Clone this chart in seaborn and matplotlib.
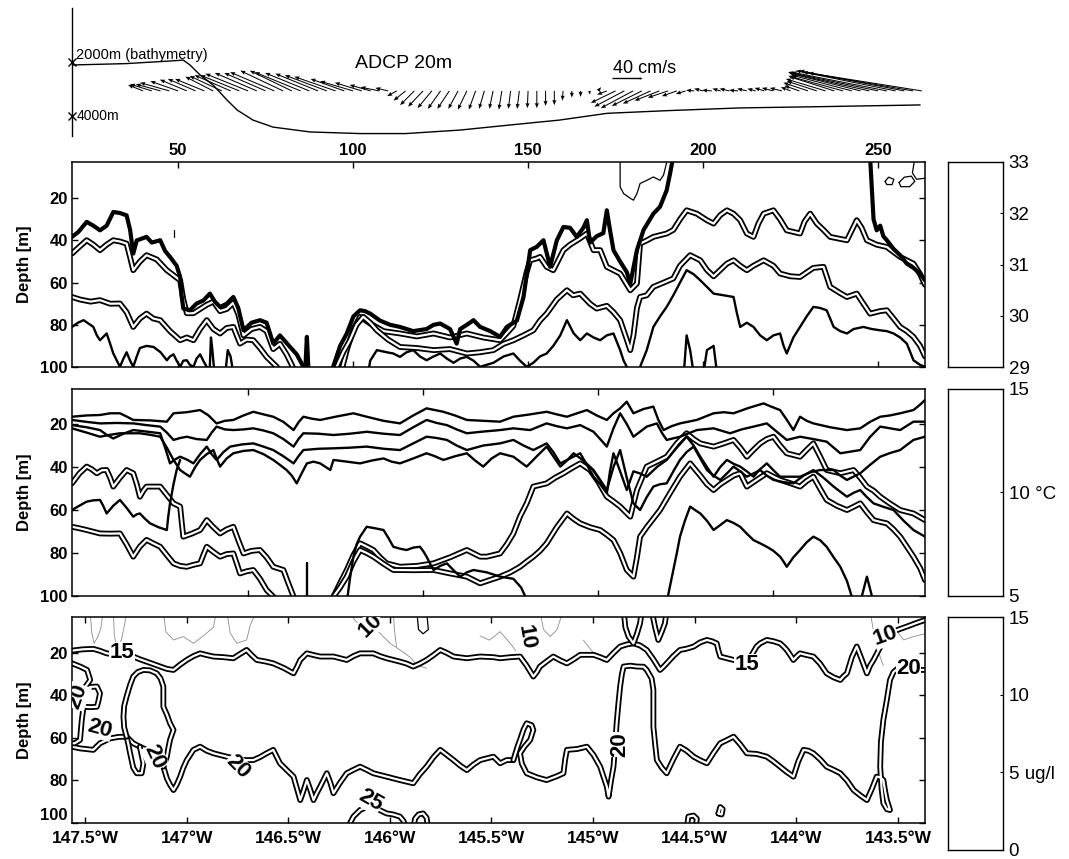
import numpy as np
import matplotlib
matplotlib.use("Agg")
import matplotlib.pyplot as plt
import seaborn as sns

sns.set_style("white")
plt.rcParams['font.family'] = ['Liberation Sans', 'DejaVu Sans']
plt.rcParams.update({'text.color': 'black', 'axes.labelcolor': 'black',
                     'xtick.color': 'black', 'ytick.color': 'black',
                     'axes.edgecolor': 'black'})

# ---------------------------------------------------------------- top: ADCP 20 m
BATHY_KM = [19.7, 35, 48, 51.5, 53.4, 56.3, 60.0, 64.0, 66.9, 71.4, 77.1, 87.7, 102.0,
            115, 130.6, 145, 159, 172.6, 190, 210.6, 235, 262]
BATHY_DEPTH = [2110, 2060, 1960, 1930, 2110, 2480, 2850, 3410, 3780, 4150, 4410, 4590, 4650,
               4650, 4520, 4330, 4150, 3900, 3800, 3700, 3650, 3590]

ADCP_KM = list(np.arange(40, 262.6, 2.5))
ADCP_U = [-20, -29, -33, -39, -37, -36, -37, -39, -37, -43, -48, -52, -57, -56, -55, -59, -57, -56,
          -61, -59, -57, -56, -55, -45, -44, -36, -28, -25, -17,
          -13, -16, -19, -20, -19, -17, -16, -13, -12, -9, -7, -5, -4, -3, -3, -1, 0, 0, 0, -1,
          0, 0, 1, 4, -13, -33, -40, -43,
          -40, -37, -33, -27, -20, -13,
          -11, -12, -13, -11, -13, -12, -13, -11, -13, -15, -16, -13,
          -20, -33, -40, -53, -60, -73, -80, -93, -107, -120, -127, -133, -140, -147, -151]
ADCP_V = [8, 9, 9, 11, 13, 15, 16, 16, 19, 20, 21, 21, 23, 24, 24, 25, 27, 27, 25, 24, 23, 21,
          19, 16, 13, 11, 8, 5, 4,
          -7, -13, -19, -21, -23, -24, -24, -24, -25, -25, -24, -24, -25, -24, -24, -23, -23,
          -20, -19, -13, -9, -8, -5, 5, -5, -16, -21, -23,
          -20, -17, -13, -9, -7, -4,
          1, 3, 1, 3, 3, 1, 3, 3, 4, 4, 4, 5,
          7, 11, 13, 16, 19, 20, 21, 23, 24, 25, 25, 27, 27, 25, 24]
ADCP_DEPTH_LINE = 3070
SCALE_SPEED = 40

# ---------------------------------------------------------------- salinity section
SAL_THICK_W = [(19.7,38.3),(21.5,36),(23.9,31.2),(25.8,33.0),(27.7,35.2),(29.6,33.0),(31.5,26.5),
               (33.4,27.0),(35.3,28.1),(36.3,35),(37.2,46.2),(38.2,40),(41.0,38.3),(42.5,41),
               (44.9,39.9),(46.3,45),(47.7,47.8),(49.6,52),(50.6,57.3),(51.0,66),(51.5,72.3),
               (53.4,73.1),(55.3,69.9),(57.2,68.5),(59.1,65.2),(60.5,69),(62.0,71.5),(63.9,70),
               (65.8,66.8),(67.2,72),(68.7,82.6),(71.0,79),(73.4,77.8),(75.3,79),(77.2,88.9),
               (79.1,85),(82.0,90.5),(83.9,94),(85.8,99.9),(86.5,103)]
SAL_THICK_SPIKE = [(86.3,103),(86.8,85.7),(87.3,103)]
SAL_THICK_M = [(93.5,103),(94.4,99.5),(96.3,90),(98.2,84.1),(100.1,76),(102.0,73.1),(103.4,73.5),
               (104.9,74.7),(107.7,78),(110.6,80),(113.4,81.0),(117.2,83),(121.0,82),(123.0,80),
               (124.9,79.4),(127.7,82),(129.6,88.9),(130.6,82),(132.5,80),(134.4,77.8),(136.3,81),
               (139.2,83),(142.0,85.7),(143.9,81.0),(146.8,78),(148.7,66.8),(150.6,44.6),(152.5,43),
               (154.4,39.9),(156.3,52.5),(158.2,40),(160.1,33.6),(162.0,34),(163.9,38.3),(165.8,34),
               (166.8,30.4),(167.7,41.0),(169.6,38),(171.5,36.5),(172.5,25.7),(173.4,35),(174.4,44.6),
               (176.3,50),(178.2,55),(179.2,60.4),(181.1,44.6),(183.0,35),(185.8,27.3),(187.7,24),
               (189.6,16.2),(190.6,8),(191.5,0)]
SAL_THICK_E = [(247.7,0),(248.2,15),(248.7,30),(249.6,35.2),(250.6,33.0),(251.5,38),(252.5,39.9),
               (254.4,44),(256.3,47),(258.2,51.0),(260.1,53),(262.0,55.7),(263.4,58.9)]
SAL_THIN_TOP = [(176.3,0),(176.3,14.6),(177.3,17.8),(179.2,20.0),(180.1,20.9),(181.1,17.8),
                (182.0,13.0),(183.9,11.5),(185.8,9.9),(187.7,11.5),(188.7,9.0),(189.6,3.0),(189.9,0)]
SAL_THIN_LOOP1 = [(252.0,12.0),(253.0,10.0),(254.5,11.0),(254.0,13.5),(252.5,13.5),(252.0,12.0)]
SAL_THIN_LOOP2 = [(256.0,12.5),(257.5,10.0),(259.5,9.5),(260.5,12.0),(259.0,14.5),(256.5,14.5),
                  (256.0,12.5)]
SAL_THIN_EDGE = [(260.6,0),(259.8,8.0),(261.0,11.0),(263.4,10.5)]
SAL_DASH = [(48.7,35.2),(48.7,38.3)]

SAL_DOUBLE_UP_W = [(19.7,46.2),(21.8,43),(23.9,39.9),(25.8,42),(27.7,44.6),(29.6,42),(31.5,39.9),
                   (33.4,40.5),(35.3,41.5),(36.3,48),(37.2,54.1),(39.1,50),(41.0,47.0),(43.9,49),
                   (46.8,54.1),(48.7,56.5),(50.6,58.9),(51.5,68),(52.5,74.5),(54.4,74.5),(56.3,72.5),
                   (58.2,70.5),(60.1,69.0),(62.0,73.5),(63.9,72.5),(65.8,69.5),(67.2,75),(68.7,85.0),
                   (71.0,82),(73.4,81.0),(75.3,83),(77.2,91.5),(79.1,89),(81.0,94.0),(82.5,99),
                   (83.5,103)]
SAL_DOUBLE_UP_E = [(96.5,103),(98.2,92),(100.1,82),(102.0,76.2),(104.9,79.4),(108.7,83),(113.4,84.1),
                   (118.2,85.5),(123.0,84.1),(127.7,86),(132.5,84.1),(137.2,86),(142.0,87.3),
                   (143.9,84.0),(145.8,80.5),(147.7,68.3),(149.6,55),(150.6,49.4),(152.5,48.5),
                   (153.4,47.8),(155.3,52.5),(157.2,54.1),(160.1,44.6),(162.0,42),(164.9,39.0),
                   (166.8,36.7),(168.7,44.6),(170.6,44.6),(172.5,52.5),(176.3,55.7),(179.2,63.6),
                   (181.1,60.4),(182.0,41.5),(183.9,40),(185.8,38.3),(187.7,37.5),(189.6,36.7),
                   (191.5,35.0),(193.4,30),(195.3,25.7),(198.2,27.3),(201.1,30.4),(203.0,32.0),
                   (204.9,28),(206.8,25.7),(208.7,27.3),(210.6,30.4),(212.5,36.7),(214.4,38.3),
                   (215.8,32),(217.3,27.3),(220.1,25.7),(222.0,30),(223.9,35.2),(227.7,36.7),
                   (229.0,31),(230.6,27.3),(232.5,32.0),(234.4,35),(236.3,38.3),(241.1,39.9),
                   (243.9,30.4),(245.3,34),(246.8,39.9),(249.6,42),(252.5,43.1),(256.3,47.8),
                   (260.1,51.0),(262.0,56.0),(263.4,61.0)]
SAL_DOUBLE_LOW_W = [(19.7,66.8),(22.0,68),(25.0,69),(27.7,68.3),(30.6,70),(33.4,69.9),(35.3,74),
                    (37.2,81.0),(39.1,77),(41.0,74.7),(42.9,77),(44.9,77.8),(47.7,83),(50.6,87.3),
                    (52.5,86),(54.4,87.3),(56.3,82),(58.2,77.8),(60.1,82),(62.0,84.1),(63.9,81.5),
                    (65.8,81.0),(67.7,88.9),(69.6,87),(71.5,87.3),(73.4,91),(75.3,95.2),(78.2,99.9),
                    (79.0,103)]
SAL_DOUBLE_LOW_E = [(94.5,103),(95.3,100),(97.2,93),(99.1,87.3),(101.0,80),(102.9,76.2),(104.9,79),
                    (106.8,82.6),(110.0,87),(113.4,90.5),(118.2,91),(123.0,92.0),(127.7,91.5),
                    (132.5,93.6),(136.3,93.0),(140.1,92.0),(143.0,89),(145.8,87.3),(148.7,85),
                    (151.5,82.6),(153.4,78),(155.3,74.7),(158.2,68),(161.1,63.6),(162.9,66),
                    (164.9,65.2),(167.7,70),(169.6,72.3),(172.5,71.0),(174.4,74),(176.3,77.8),
                    (178.2,87),(179.2,92.0),(180.1,85),(181.1,72),(182.0,66.8),(183.9,66),
                    (185.8,62.0),(188.7,60),(191.5,58.0),(193.4,52),(196.3,47.0),(199.2,49.4),
                    (201.1,54),(203.0,57.0),(206.8,51),(208.7,49.4),(210.6,52),(212.5,54.1),
                    (214.4,52),(217.3,49.4),(220.1,52),(222.0,55.7),(225.0,57),(227.7,57.3),
                    (231.5,53),(234.4,52.5),(236.3,62.0),(239.2,65),(241.1,66.8),(243.9,65.2),
                    (245.8,70),(247.7,74.7),(250.6,73.5),(252.5,73.1),(254.4,77),(256.3,81.0),
                    (258.2,83),(260.1,85.7),(262.0,90),(263.4,95.0)]
SAL_BLACK_LOW_W = [(19.7,81.0),(21.4,79),(23.0,77.8),(24.5,79.5),(25.8,81.0),(26.8,85),(27.7,87.3),
                   (29.6,84.1),(30.6,89),(31.5,93.6),(33.4,99.9),(34.4,96),(35.3,93.0),(36.3,97),
                   (37.2,99.9),(38.2,95),(39.1,91.0),(41.0,90),(43.0,90.5),(45.0,93),(46.8,96.8),
                   (47.7,95),(48.7,94.0),(49.6,97),(50.6,99.9),(51.5,97),(52.5,96.8),(53.4,99),
                   (54.4,99.9),(55.3,96),(56.3,94.0),(57.2,97),(58.2,100),(58.7,103)]
SAL_BLACK_SPIKES = [[(59.0,103),(59.4,86),(59.8,92),(60.4,103)],
                    [(63.5,103),(64.2,92),(65.0,95),(65.8,103)],
                    [(194.5,103),(195.3,85),(196.3,92),(197.3,103)],
                    [(200.1,103),(201.1,92),(203.0,90),(204.0,103)]]
SAL_BLACK_LOW_M = [(104.3,103),(104.9,97),(106.8,92),(109.6,93),(111.5,93.6),(113.4,95.2),(115.3,93),
                   (117.2,92.0),(119.1,95),(121.0,96.8),(123.0,95),(124.9,93.6),(126.8,96),(128.7,98),
                   (130.6,96),(132.5,95.2),(134.4,97),(136.3,99.9),(140.1,98),(143.0,95),(145.8,93.6),
                   (147.7,97),(149.6,99.9),(151.5,98),(153.4,95),(155.3,93.6),(157.2,90),(159.2,85),
                   (161.1,77.8),(163.0,84),(164.9,87.3),(166.8,84.1),(168.7,86),(170.6,87.3),
                   (172.5,85),(174.4,84.1),(176.3,92),(177.3,97),(178.2,99.9),(179.0,103)]
SAL_BLACK_LOW_E = [(181.6,103),(182.0,99.9),(183.9,92),(185.8,81.0),(187.7,76),(189.6,71.5),
                   (191.5,66),(193.4,60),(195.3,54.1),(197.3,56),(199.2,58.9),(201.1,62),(203.0,65.2),
                   (205.9,66),(208.7,66.8),(209.6,74),(210.6,81.0),(212.5,79),(214.4,81.0),(216.3,85),
                   (218.2,87.3),(220.1,85),(222.0,84.1),(223.0,90),(223.9,93.6),(225.8,86),
                   (227.7,81.0),(229.6,76),(231.5,71.5),(233.4,72),(235.3,73.1),(236.3,77),
                   (237.3,81.0),(239.2,83),(241.1,84.1),(243.0,82),(245.8,81.0),(248.2,82),
                   (250.6,82.6),(252.5,83),(254.4,84.1),(256.3,86),(258.2,88.9),(259.2,93),
                   (260.1,96.8),(262.0,99),(263.4,99.9)]

# ---------------------------------------------------------------- temperature section
TEMP_L1 = [(19.7,16.6),(23.9,16.0),(27.7,15.8),(30.6,15.0),(33.4,15.0),(35.3,16.5),(37.2,18.1),
           (42.0,18.3),(46.8,18.9),(48.7,15.0),(52.5,14.5),(56.3,13.5),(58.7,16),(61.0,19.7),
           (63.4,18.5),(65.8,18.1),(68.7,16),(71.5,14.3),(74.4,15.5),(77.2,16.6),(80.1,19),
           (83.0,22.8),(84.5,19),(85.8,16.6),(88.2,17.5),(90.6,18.1),(95.3,16.5),(100.1,15.0),
           (103.9,16.6),(108.7,18.5),(113.4,19.7),(117.2,16),(121.0,12.7),(123.4,13.5),(125.8,14.3),
           (129.1,16),(132.5,18.1),(137.2,18.5),(142.0,18.9),(145.8,16.6),(150.6,15.5),(155.3,14.3),
           (158.2,15.5),(161.1,16.6),(164.0,15),(166.8,13.5),(169.6,16),(172.5,18.1),(174.4,15),
           (176.3,12.7),(178.2,9.6),(180.1,15.0),(183.0,13),(185.8,11.9),(187.2,18),(188.7,22.8),
           (191.0,21),(193.4,19.7),(198.2,18.1),(203.0,15.0),(205.9,14.5),(208.7,15.0),(213.0,12.5),
           (217.3,10.4),(219.6,12),(222.0,13.5),(223.9,18),(225.8,22.8),(227.7,16.6),(229.6,18.5),
           (231.5,19.7),(236.3,21.5),(241.1,22.8),(244.9,22.0),(247.7,19),(250.6,16.6),(253.4,16),
           (256.3,15.0),(260.1,13.5),(262.0,11),(263.4,8.8)]
TEMP_L2 = [(19.7,18.1),(23.9,19),(27.7,19.7),(32.5,19.5),(37.2,19.7),(41.0,20.5),(44.9,21.2),
           (46.8,24),(48.7,27.4),(50.6,26.5),(52.5,25.9),(55.3,27),(58.2,27.4),(59.6,24),(61.0,21.2),
           (63.4,22.5),(65.8,22.8),(68.7,22.5),(71.5,22.0),(74.4,23),(77.2,24.3),(80.1,27),
           (83.0,30.5),(84.4,27),(85.8,24.3),(90.1,24.5),(94.4,25.1),(99.1,24.5),(103.9,23.6),
           (108.7,24.5),(113.4,25.1),(117.2,21.5),(121.0,18.1),(123.9,19.5),(126.8,20.5),(129.6,22.5),
           (132.5,24.3),(137.2,23.5),(142.0,22.8),(145.8,22.0),(150.6,22.8),(155.3,19.7),(158.2,21),
           (161.1,22.0),(164.9,20.5),(168.7,23.6),(170.6,27),(172.5,30.5),(174.4,22),(176.3,15.0),
           (178.2,20),(180.1,25.9),(183.9,21.2),(186.8,19.7),(188.2,24),(189.6,27.4),(193.4,25.9),
           (198.2,22.8),(203.0,22.0),(207.7,24.3),(211.0,22.5),(214.4,21.2),(218.2,19.7),(221.0,23.5),
           (223.9,27.4),(227.7,25.9),(231.5,27),(235.3,28.2),(239.2,33.6),(244.9,32.1),(247.7,26),
           (250.6,21.2),(256.3,22.8),(260.1,18.9),(263.4,18.9)]
TEMP_L3 = [(19.7,20.5),(23.9,21.5),(27.7,22.8),(29.6,25),(31.5,26.7),(34.4,24.5),(37.2,22.8),
           (41.0,23.5),(44.9,24.3),(46.3,31),(47.7,38.3),(49.1,36.5),(50.6,35.2),(52.5,36.5),
           (54.4,38.3),(56.3,34),(58.2,30.5),(59.6,34),(61.0,36.7),(63.0,33),(64.9,30.5),(68.2,29.5),
           (71.5,29.0),(74.4,30.5),(77.2,32.1),(80.1,35),(83.0,38.3),(84.4,35),(85.8,32.1),(90.1,31.5),
           (94.4,31.3),(99.1,31),(103.9,30.5),(108.7,31.5),(113.4,32.1),(117.2,29),(121.0,25.9),
           (123.9,26.5),(126.8,27.4),(129.6,30),(132.5,32.1),(137.2,30),(142.0,29.0),(145.8,27.4),
           (148.7,30),(151.5,32.1),(155.3,29.0),(157.2,33),(159.2,38.3),(162.0,36),(164.9,33.6),
           (166.8,39),(168.7,44.5),(170.6,48),(172.5,52.2),(173.4,42),(174.4,33.6),(176.3,42),
           (178.2,50.7),(180.1,42.0),(182.0,43),(183.9,44.5),(186.8,40),(189.6,36.7),(192.5,31),
           (195.3,25.9),(197.3,30),(199.2,35.2),(201.1,40),(203.0,44.5),(204.9,40),(206.8,36.7),
           (208.7,38.5),(210.6,39.8),(212.5,42),(214.4,44.5),(216.3,41),(218.2,38.3),(220.1,41.5),
           (222.0,44.5),(224.9,44.5),(227.7,44.5),(230.6,42.5),(233.4,41.4),(237.3,41.4),(239.2,44),
           (241.1,46.0),(244.9,42.9),(247.7,39),(250.6,35.2),(253.4,33.5),(256.3,32.1),(260.1,27.4),
           (263.4,25.9)]
TEMP_L4 = [(19.7,22.0),(23.9,24),(27.7,25.9),(30.6,25),(33.4,24.3),(39.1,24.3),(42.0,25),(44.9,25.9),
           (46.8,31),(48.7,36.7),(50.6,41.4),(52.0,43),(53.4,44.5),(54.9,40),(56.3,36.7),(58.2,34),
           (60.1,32.1),(61.0,36),(62.0,39.8),(63.9,36),(65.8,33.6),(68.7,32.5),(71.5,32.1),(74.4,34),
           (77.2,36.7),(79.1,39),(81.0,41.4),(82.5,44),(83.9,47.6),(85.3,43),(86.8,38.3),(88.7,37.5),
           (90.6,38.3),(93.5,41.4),(94.4,36.7),(98.2,37.5),(102.0,38.3),(105.3,37),(108.7,36.0),
           (111.0,37.5),(113.4,38.3),(117.2,36),(121.0,33.6),(123.4,35),(125.8,36.7),(129.1,35),
           (132.5,33.6),(134.9,37),(137.2,39.8),(139.6,36),(142.0,33.6),(145.8,35.2),(147.7,37.5),
           (149.6,39.8),(152.5,35),(155.3,30.5),(157.2,35),(159.2,39.8),(161.1,37),(163.0,33.6),
           (165.8,37),(168.7,41.4),(170.6,46),(172.5,50.7),(174.4,40),(176.3,32.1),(178.2,45),
           (180.1,56.9),(182.0,60.0),(183.9,54),(185.8,49.1),(187.7,48),(189.6,47.6),(191.5,42),
           (193.4,36.7),(195.3,33),(197.3,30.5),(199.2,36),(201.1,41.4),(203.0,44),(204.9,46.0),
           (206.8,43),(208.7,39.8),(210.6,42),(212.5,44.5),(214.4,43),(216.3,41.4),(218.2,44),
           (220.1,46.0),(222.9,47),(225.8,47.6),(228.7,44),(231.5,41.4),(234.4,45),(237.3,49.1),
           (239.2,51.5),(241.1,53.8),(243.0,52),(244.9,50.7),(246.8,54),(248.7,56.9),(251.5,58.5),
           (254.4,60.0),(257.3,65),(260.1,69.3),(263.4,72.4)]
TEMP_L5 = [(19.7,60.0),(21.8,58),(23.9,56.1),(25.8,55.5),(27.7,55.3),(28.6,58),(29.6,61.6),(31.5,58),
           (33.4,55.3),(35.3,59),(37.2,63.1),(38.2,62),(39.1,61.6),(40.5,64),(42.0,66.2),(44.4,68),
           (46.8,69.3),(47.2,63),(47.7,56.9),(48.7,48),(49.6,41.4),(50.6,36.7)]
TEMP_L6 = [(98.2,103),(99.1,92),(100.1,81.7),(101.0,76),(102.0,72.4),(103.0,70),(103.9,67.8),
           (106.3,68.5),(108.7,69.3),(110.1,73),(111.5,77.1),(113.4,78),(115.3,78.6),(117.2,77.5),
           (119.1,77.1),(120.0,79),(121.0,81.7),(122.0,85),(123.0,87.9),(124.9,86),(126.8,84.8),
           (128.7,88),(130.6,91.0),(132.5,89),(134.4,87.9),(138.2,89),(142.0,91.0),(145.8,92),
           (148.0,96),(150.0,103)]
TEMP_L7 = [(189.6,103),(190.6,95),(191.5,87.9),(192.5,80),(193.4,72.4),(194.8,65),(196.3,58.4),
           (197.7,60),(199.2,61.6),(201.1,65),(203.0,69.3),(204.9,67),(206.8,64.7),(208.7,66),
           (210.6,67.8),(212.5,71),(214.4,74.0),(216.3,75.5),(218.2,77.1),(220.1,79),(222.0,81.7),
           (223.0,84),(223.9,86.4),(225.8,82),(227.7,78.6),(229.6,75),(231.5,72.4),(233.4,74),
           (235.3,77.1),(237.3,82),(239.2,86.4),(241.1,93),(243.0,103)]
TEMP_BITS = [[(244.9,103),(246.8,91.0),(248.7,103)], [(86.8,103),(86.8,84.8)]]
TEMP_D1_W = [(19.7,47.6),(21.8,43),(23.9,39.8),(25.3,41),(26.8,42.9),(28.2,41.5),(29.6,41.4),
             (30.6,45),(31.5,49.1),(33.4,45),(35.3,41.4),(37.2,42.9),(38.2,48),(39.1,53.8),(40.1,51),
             (41.0,49.1),(44.9,49.1),(46.8,53),(48.7,56.9),(50.6,58.4),(51.0,65),(51.5,72.4),
             (53.9,71),(56.3,69.3),(58.2,64.7),(60.1,68),(62.0,70.9),(63.9,69),(65.8,67.8),(67.2,74),
             (68.7,80.2),(71.0,79),(73.4,78.6),(75.3,82),(77.2,86.4),(80.1,87.9),(81.5,94),
             (83.0,100.3),(83.5,103)]
TEMP_D1_E = [(94.0,103),(94.4,100.3),(96.3,94),(98.2,87.9),(100.1,81),(102.0,75.5),(103.9,77),
             (105.8,78.6),(107.7,82),(109.6,84.8),(113.4,86.4),(118.2,86),(123.0,84.8),(127.7,82),
             (132.5,78.6),(136.3,81.7),(138.2,81.7),(142.0,80.2),(143.9,76),(145.8,70.9),(147.7,63),
             (149.6,56.9),(151.5,49.1),(155.3,47.6),(157.7,45),(160.1,42.9),(162.5,40.5),(164.9,38.3),
             (167.7,41.4),(170.1,47),(172.5,53.8),(174.4,56),(176.3,58.4),(179.2,63.1),(181.1,50.7),
             (183.9,39.8),(186.8,37.5),(189.6,35.2),(192.5,29),(195.3,24.3),(197.3,27),(199.2,29.0),
             (203.0,30.5),(205.9,29),(208.7,27.4),(210.6,31),(212.5,35.2),(214.4,32),(216.3,29.0),
             (218.2,27),(220.1,25.9),(222.0,30),(223.9,33.6),(227.7,35.2),(229.6,32),(231.5,29.0),
             (233.4,35),(235.3,41.4),(239.2,42.9),(243.0,41.4),(244.9,45),(246.8,49.1),(248.7,51),
             (250.6,53.8),(253.4,57),(256.3,60.0),(260.1,61.6),(263.4,64.7)]
TEMP_D2_W = [(19.7,67.8),(21.8,68.5),(23.9,69.3),(27.7,70.9),(30.6,71),(33.4,70.9),(35.3,76),
             (37.2,81.7),(39.1,77),(41.0,73.9),(42.9,75.5),(44.9,77.1),(46.8,81),(48.7,84.8),
             (50.6,86),(52.5,86.4),(54.4,85.5),(56.3,84.8),(57.2,81),(58.2,77.1),(60.1,79.5),
             (62.0,81.7),(63.9,80.5),(65.8,80.2),(66.8,85),(67.7,89.5),(69.6,88.5),(71.5,87.9),
             (73.4,92),(75.3,97.2),(77.2,100.3),(77.5,103)]
TEMP_D2_E = [(94.2,103),(94.4,100.3),(96.3,96),(98.2,91.0),(100.1,84),(102.0,78.6),(103.9,80),
             (105.8,81.7),(108.7,85),(111.5,87.9),(117.2,88),(123.0,87.9),(127.7,89.5),(132.5,91.0),
             (136.3,94.1),(139.2,92.5),(142.0,91.0),(144.9,89),(147.7,86.4),(149.6,84),(151.5,81.7),
             (153.4,79),(155.3,75.5),(158.2,68),(161.1,61.6),(162.9,64),(164.9,66.2),(167.7,68),
             (170.6,69.3),(172.5,71.5),(174.4,74.0),(176.3,80),(178.2,87.9),(180.1,91.0),(181.1,82),
             (182.0,72.4),(183.9,68),(185.8,64),(187.7,60.0),(190.6,52),(193.4,44.5),(196.3,38.3),
             (199.2,44),(201.1,48),(203.0,50.7),(204.9,48),(206.8,46.0),(208.7,44),(210.6,42.9),
             (212.5,49.1),(215.3,46),(218.2,42.9),(220.1,44.5),(222.0,46.0),(224.9,47.5),(227.7,49.1),
             (229.6,46.5),(231.5,44.5),(233.4,50),(235.3,55.3),(238.2,58),(241.1,60.0),(243.0,58.5),
             (244.9,56.9),(246.8,61),(248.7,64.7),(250.6,65.5),(252.5,66.2),(254.4,69),(256.3,72.4),
             (258.2,77),(260.1,81.7),(262.0,87),(263.4,92.6)]

# ---------------------------------------------------------------- chlorophyll section
CHL15 = [(19.7,18.9),(22.8,18.3),(25.8,18.1),(27.7,19),(29.6,20.2),(33.4,21),(37.2,21.7),(39.1,23),
         (41.0,24.1),(42.9,25.2),(44.9,26.4),(46.8,27.5),(48.7,28.0),(50.6,25.5),(52.5,23.3),
         (54.4,21.5),(56.3,20.2),(58.2,21),(60.1,21.7),(63.0,22),(65.8,22.5),(67.7,20.5),(69.6,18.6),
         (71.0,21),(72.5,23.3),(74.9,24),(77.2,24.9),(80.1,27),(83.0,29.6),(84.0,26.5),(84.9,23.3),
         (86.8,20.2),(88.7,21),(90.6,21.7),(94.4,21.7),(96.3,22.5),(98.2,23.3),(100.1,21.5),
         (102.0,20.2),(105.8,20.2),(107.7,21.5),(109.6,22.5),(113.4,24.1),(115.3,25),(117.2,26.4),
         (119.1,25),(121.0,23.3),(123.0,21),(124.9,18.6),(126.8,20),(128.7,21.7),(132.5,22.5),
         (136.3,21.7),(140.1,22),(142.0,22.5),(145.0,22),(147.7,21.7),(149.6,26),(151.5,31.1),
         (152.5,29),(153.4,26.4),(155.3,24),(157.2,21.7),(159.2,23.5),(161.1,24.9),(163.0,23),
         (164.9,20.9),(168.7,20.9),(170.6,22),(172.5,23.3),(174.4,20),(176.3,17.0),(178.2,16),
         (180.1,15.5),(182.0,16.5),(183.9,18.6),(185.8,23),(187.7,28.0),(188.7,26.5),(189.6,24.9),
         (191.5,21.5),(193.4,18.6),(195.3,18),(197.3,17.0),(199.2,15),(201.1,13.9),(202.5,14.5),
         (203.9,15.5),(204.4,19),(204.9,21.7),(206.8,22.5),(208.7,23.3),(211.0,24),(213.5,22),
         (215.3,17.0),(216.3,15.5),(218.2,13.9),(220.1,14.5),(222.0,15.5),(223.0,17),(223.9,18.6),
         (224.9,21),(225.8,23.3),(226.8,21.5),(227.7,20.2),(229.6,21),(231.5,21.7),(233.4,25),
         (235.3,29.6),(237.3,31.5),(239.2,32.7),(240.1,31),(241.1,29.6),(242.5,22),(243.9,17.0),
         (245.3,23),(246.8,29.6),(247.7,26),(248.7,23.3),(251.0,16),(253.4,10.7),(255.8,9),
         (258.2,7.6),(260.8,6),(263.4,4.5)]
CHL20_MAIN_W = [(19.7,64.1),(22.0,64.9),(25.8,65.6),(27.7,62.5),(30.6,60.2),(33.0,59.5),(35.3,59.4),
                (37.2,62.5),(39.1,64.1),(41.0,65.6),(43.0,68.8),(44.9,71),(45.8,73.5),(46.8,79.0),
                (47.7,82),(48.7,84.5),(49.6,82),(50.6,78.2),(51.5,74),(52.5,70.4),(54.4,65.6),
                (56.3,64.1),(58.2,66),(60.1,67.2),(62.0,68),(63.9,68.8),(65.8,69.5),(67.7,70.4),
                (71.5,70.4),(73.4,69),(75.3,67.2),(77.2,65.6),(79.1,71.9),(81.0,75),(83.0,78.2),
                (84.0,84),(84.9,89.2),(85.8,85),(86.8,79.8),(87.7,84),(88.7,89.2),(89.6,86),
                (90.6,82.9),(92.5,76.6),(93.5,81),(94.4,86.0),(96.3,81),(98.2,76.6),(100.1,75),
                (102.0,73.5),(103.9,75),(105.8,76.6),(109.6,78.2),(113.4,79.8),(117.2,81.3),
                (119.1,77),(121.0,73.5),(123.0,69),(124.9,65.6),(126.8,68),(128.7,70.4),(130.6,73),
                (132.5,75.1),(134.4,72.5),(136.3,70.4),(140.1,68.8),(142.0,71.9),(143.9,70.4),
                (145.8,70.4)]
CHL20_MAIN_E = [(145.8,70.4),(147.0,64),(147.7,60.9),(148.7,56),(149.6,53.1),(151.0,54),(151.5,56.2),
                (150.6,60.9),(149.0,64),(147.7,67.2),(148.2,72),(149.6,76.6),(152.5,78.5),(155.3,79.8),
                (158.2,78),(160.1,76.6),(160.6,70),(161.1,65.6),(164.0,65.2),(166.8,64.1),(168.7,68),
                (170.6,73.5),(171.5,78),(172.5,82.9),(173.0,87.6),(173.7,80),(174.4,73.5),(174.9,63),
                (175.3,53.1),(175.8,44),(176.3,35.8),(176.8,30),(177.3,26.4),(179.2,26.0),(181.1,26.4),
                (183.0,26.5),(183.9,28.0),(185.3,32),(185.8,37.4),(185.8,46),(185.8,54.7),(186.3,63),
                (186.8,70.4),(188.2,74),(189.6,76.6),(191.5,70),(193.4,64.1),(195.3,66),(197.3,68.8),
                (199.2,70.5),(201.1,71.9),(203.0,67),(204.9,62.5),(206.8,61),(208.7,59.4),(210.6,63),
                (212.5,67.2),(215.3,67.5),(218.2,68.8),(220.1,71),(222.0,73.5),(223.9,76),(225.8,78.2),
                (227.2,71),(228.7,65.6),(230.1,66),(231.5,67.2),(233.4,70),(235.3,73.5),(237.3,75),
                (239.2,76.6),(241.1,80),(243.0,84.5),(244.9,87),(246.8,89.2),(248.2,84),(249.6,78.2),
                (250.6,78.5),(251.5,79.8),(252.0,85),(252.5,89.2),(253.4,93.9),(252.5,93.5),
                (251.5,90.7),(251.0,84),(250.6,73.5),(250.8,62),(251.5,51.5),(252.5,42),(253.4,32.7),
                (254.4,29),(256.3,26.4),(258.2,27),(260.1,28.0),(263.4,28.0)]
CHL20_LEFT = [(19.7,24.9),(22.0,26.4),(24.0,28),(24.9,32.7),(23.5,36),(23.0,37.4),(25.0,36),
              (26.8,35.8),(27.7,39.0),(27.2,43),(26.8,45.3),(25.0,45.5),(23.0,45.3),(22.5,51.5),
              (22.2,57),(22.0,60.9),(20.5,62.5),(19.7,62.5)]
CHL20_U = [(35.3,59.4),(35.8,63),(36.3,67.2),(37.2,74.0),(38.2,76.6),(39.6,76.6),(40.1,72.0),
           (39.1,64.1)]
CHL20_TONGUE = [(35.3,59.4),(34.6,55),(34.4,50.0),(34.6,45),(35.3,40.5),(36.3,35),(37.2,31.1),
                (38.5,29),(40.1,28.0),(42.0,28.2),(43.9,29.6),(45.0,32),(45.8,35.8),(45.8,40),
                (45.8,45.3),(46.8,49),(47.7,53.1),(48.7,56.2),(48.2,58.5),(47.7,60.9),(47.2,65),
                (46.8,68.8),(45.8,73.5)]
CHL25 = [(98.2,103),(100.1,97),(102.0,93.9),(103.9,92.5),(105.8,92.3),(107.7,94),(109.6,95.5),
         (111.5,96),(113.4,97.0),(114.4,99),(115.3,103)]
CHL25_LOOP = [(117.2,103),(117.7,98),(118.7,96.0),(120.0,95.5),(121.0,97.5),(121.5,103)]
CHL_SMALL = [[(195.3,103),(195.8,97),(197.3,96.5),(198.2,98),(197.8,103)],
             [(204.4,95.5),(204.9,92.5),(205.6,93.5),(205.3,96),(204.4,95.5)]]
CHL_TOP_V = [[(177.3,0),(177.8,8),(178.7,12.3),(180.1,15.5),(181.1,11),(182.0,6),(182.5,0)],
             [(185.3,0),(186.3,8),(187.2,13.9),(188.2,10),(189.1,6),(189.6,0)]]
CHL_THIN = [[(24.9,0),(25.3,10),(26.0,15.5),(27.2,12),(28.0,8),(28.6,0)],
            [(31.5,0),(31.8,12),(32.5,17.5),(33.8,14),(34.8,6),(35.3,0)],
            [(45.8,0),(46.5,10),(48.7,13.9),(51.5,12.3),(54.4,15.5),(57.2,12),(60.1,8),(61.0,0)],
            [(63.9,0),(64.9,10.7),(66.8,15.5),(69.6,13.9),(70.6,7),(72.5,0)],
            [(98.2,0),(101.0,5.5),(103.0,6.5)],
            [(107.2,10),(110.6,15.5),(113.4,18.6),(116.3,22),(118.2,25.6),(121.0,27.2)],
            [(111.5,0),(111.8,9),(112.4,17)],
            [(136.3,12),(139.0,14),(142.0,10),(144.9,15.5),(146.5,19)],
            [(153.4,0),(154.4,9),(156.3,12.3),(158.2,9.2),(160.1,0)],
            [(165.8,14),(168.7,20),(171.5,24),(174.4,21)],
            [(247.7,0),(248.7,10),(249.6,16),(250.6,22),(251.5,26)],
            [(255.0,9),(257.3,13.9),(260.1,12.3),(263.4,11)]]
CHL_THIN_DARK = [(118.2,0),(118.7,9),(120.0,11),(121.5,9),(121.0,0)]
CHL_LABELS = [('15', 34.0, 20.0, 0), ('15', 212.5, 25.5, 0), ('10', 104.9, 7.0, 45),
              ('10', 149.6, 12.5, -80), ('10', 252.0, 12.0, 20), ('20', 27.7, 55.5, -15),
              ('20', 21.3, 40.5, 70), ('20', 43.3, 69.0, -65), ('20', 67.0, 73.5, -45),
              ('20', 176.3, 63.0, 90), ('20', 258.8, 27.2, 0), ('25', 104.9, 89.5, -30)]

# ---------------------------------------------------------------- axes annotations
KM_TICKS = [50, 100, 150, 200, 250]
MID_TICKS = [70, 120, 170, 220]
LON_TICKS = [147.5, 147.0, 146.5, 146.0, 145.5, 145.0, 144.5, 144.0, 143.5]
DEPTH_TICKS = [20, 40, 60, 80, 100]
SAL_CB = ([29, 30, 31, 32, 33], ['29', '30', '31', '32', '33'])
TEMP_CB = ([5, 10, 15], ['5', '10 \u00b0C', '15'])
CHL_CB = ([0, 5, 10, 15], ['0', '5 ug/l', '10', '15'])


def lon_to_km(lon_w):
    return 23.4 + (147.5 - lon_w) * 58.07


W, H = 1069, 859
fig = plt.figure(figsize=(W / 100, H / 100), dpi=100)


def frame(x0, y0, x1, y1):
    return fig.add_axes([x0 / W, 1 - y1 / H, (x1 - x0) / W, (y1 - y0) / H])


STYLES = {
    'thick': dict(color='black', linewidth=3.0),
    'black': dict(color='black', linewidth=1.7),
    'thin': dict(color='black', linewidth=0.9),
    'grey': dict(color='0.55', linewidth=0.6),
}


def trace(ax, pts, kind):
    x = [p[0] for p in pts]
    y = [p[1] for p in pts]
    if kind == 'double':
        sns.lineplot(x=x, y=y, sort=False, estimator=None, ax=ax, color='black',
                     linewidth=4.2, solid_joinstyle='round', solid_capstyle='round')
        sns.lineplot(x=x, y=y, sort=False, estimator=None, ax=ax, color='white',
                     linewidth=1.6, solid_joinstyle='round')
    else:
        sns.lineplot(x=x, y=y, sort=False, estimator=None, ax=ax,
                     solid_joinstyle='round', **STYLES[kind])


def section_axes(ax, ylim_top):
    ax.set_xlim(19.7, 263.4)
    ax.set_ylim(100, ylim_top)
    ax.set_yticks(DEPTH_TICKS)
    ax.set_yticklabels([str(t) for t in DEPTH_TICKS], fontsize=12, fontweight='bold')
    ax.set_ylabel('Depth [m]', fontsize=12, fontweight='bold', labelpad=6)
    ax.set_xlabel('')
    ax.tick_params(direction='in', length=4, width=1, top=True, right=True,
                   bottom=True, left=True, pad=3)
    for s in ax.spines.values():
        s.set_linewidth(1.1)
        s.set_color('black')


# ---- top panel
ax0 = frame(72, 8, 925, 136)
sns.lineplot(x=BATHY_KM, y=BATHY_DEPTH, sort=False, estimator=None, ax=ax0,
             color='black', linewidth=1.0)
n = len(ADCP_KM)
ax0.quiver(ADCP_KM, [ADCP_DEPTH_LINE] * n, ADCP_U, ADCP_V, angles='uv',
           scale_units='inches', scale=SCALE_SPEED / 0.30, width=0.0012,
           headwidth=4, headlength=5, headaxislength=4.5, color='black', zorder=3)
ax0.quiver([174.0], [2593], [SCALE_SPEED], [0], angles='uv', scale_units='inches',
           scale=SCALE_SPEED / 0.30, width=0.0016, headwidth=2, headlength=2,
           headaxislength=2, color='black')
ax0.text(174.3, 2230, '40 cm/s', fontsize=13, va='center', ha='left')
ax0.text(100.6, 2040, 'ADCP 20m', fontsize=14, va='center', ha='left')
ax0.plot([19.7, 19.7], [2000, 4000], linestyle='none', marker='x', markersize=6,
         color='black', clip_on=False, zorder=4)
ax0.text(20.9, 1740, '2000m (bathymetry)', fontsize=10.5, va='center', ha='left')
ax0.text(20.9, 4000, '4000m', fontsize=10, va='center', ha='left')
ax0.set_xlim(19.7, 263.4)
ax0.set_ylim(4740, 0)
ax0.set_xticks([])
ax0.set_yticks([])
ax0.set_xlabel('')
ax0.set_ylabel('')
for side in ['top', 'right', 'bottom']:
    ax0.spines[side].set_visible(False)
ax0.spines['left'].set_linewidth(1.0)

# ---- salinity
ax1 = frame(72, 162, 925, 367)
for seg in [SAL_DOUBLE_UP_W, SAL_DOUBLE_UP_E, SAL_DOUBLE_LOW_W, SAL_DOUBLE_LOW_E]:
    trace(ax1, seg, 'double')
for seg in [SAL_BLACK_LOW_W, SAL_BLACK_LOW_M, SAL_BLACK_LOW_E] + SAL_BLACK_SPIKES:
    trace(ax1, seg, 'black')
for seg in [SAL_THIN_TOP, SAL_THIN_LOOP1, SAL_THIN_LOOP2, SAL_THIN_EDGE, SAL_DASH]:
    trace(ax1, seg, 'thin')
for seg in [SAL_THICK_W, SAL_THICK_SPIKE, SAL_THICK_M, SAL_THICK_E]:
    trace(ax1, seg, 'thick')
section_axes(ax1, 2.8)
ax1.set_xticks(KM_TICKS)
ax1.tick_params(labeltop=True, labelbottom=False)
ax1.set_xticklabels([str(k) for k in KM_TICKS], fontsize=12, fontweight='bold')

# ---- temperature
ax2 = frame(72, 389, 925, 596)
for seg in [TEMP_D1_W, TEMP_D1_E, TEMP_D2_W, TEMP_D2_E]:
    trace(ax2, seg, 'double')
for seg in [TEMP_L1, TEMP_L2, TEMP_L3, TEMP_L4, TEMP_L5, TEMP_L6, TEMP_L7] + TEMP_BITS:
    trace(ax2, seg, 'black')
section_axes(ax2, 3.7)
ax2.set_xticks(MID_TICKS)
ax2.set_xticklabels([])

# ---- chlorophyll
ax3 = frame(72, 617, 925, 823)
for seg in CHL_THIN:
    trace(ax3, seg, 'grey')
trace(ax3, CHL_THIN_DARK, 'thin')
for seg in [CHL15, CHL20_MAIN_W, CHL20_MAIN_E, CHL20_LEFT, CHL20_U, CHL20_TONGUE,
            CHL25, CHL25_LOOP] + CHL_SMALL + CHL_TOP_V:
    trace(ax3, seg, 'double')
for txt, xk, yd, rot in CHL_LABELS:
    ax3.text(xk, yd, txt, fontsize=16, fontweight='bold', rotation=rot, ha='center',
             va='center', rotation_mode='anchor', clip_on=True, color='black',
             bbox=dict(facecolor='white', edgecolor='none', pad=0.2))
section_axes(ax3, 3.1)
ax3.set_xticks([lon_to_km(l) for l in LON_TICKS])
ax3.set_xticklabels([f'{l:g}\u00b0W' for l in LON_TICKS], fontsize=12.5, fontweight='bold')
ax3.tick_params(axis='x', pad=6)
ax3.get_yticklabels()[-1].set_verticalalignment('bottom')

# ---- colour bars
for (y0, y1), (ticks, labels) in zip([(162, 367), (389, 596), (617, 850)],
                                     [SAL_CB, TEMP_CB, CHL_CB]):
    cax = frame(948, y0, 1003, y1)
    cax.set_ylim(ticks[0], ticks[-1])
    cax.set_xticks([])
    cax.yaxis.tick_right()
    cax.set_yticks(ticks)
    cax.set_yticklabels(labels, fontsize=13.5)
    cax.tick_params(axis='y', direction='in', length=2, width=0.8, pad=4)
    for s in cax.spines.values():
        s.set_linewidth(1.0)

fig.savefig('out.png', dpi=100)
